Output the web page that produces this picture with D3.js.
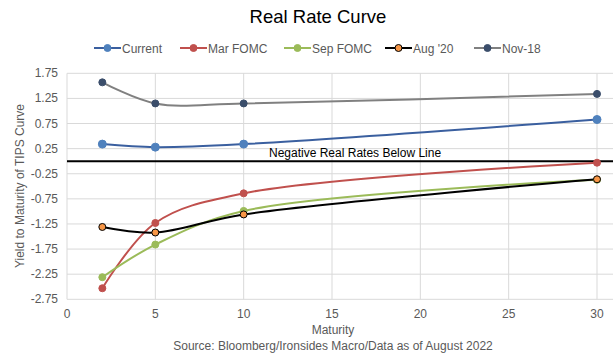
<!DOCTYPE html>
<html><head><meta charset="utf-8">
<script src="https://cdn.jsdelivr.net/npm/d3@7"></script>
<style>body{margin:0;background:#fff;} text{font-family:Arial,"Liberation Sans",sans-serif;}</style>
</head><body>
<svg id="c" width="613" height="356"></svg>
<script>
const maturities = [2, 5, 10, 30];
const current = [0.34, 0.28, 0.34, 0.83];
const marFomc = [-2.53, -1.23, -0.64, -0.03];
const sepFomc = [-2.31, -1.66, -0.99, -0.37];
const aug20 = [-1.31, -1.42, -1.06, -0.36];
const nov18 = [1.57, 1.15, 1.15, 1.34];
const seriesNames = ["Current", "Mar FOMC", "Sep FOMC", "Aug '20", "Nov-18"];
const yTicks = [1.75, 1.25, 0.75, 0.25, -0.25, -0.75, -1.25, -1.75, -2.25, -2.75];
const xTicks = [0, 5, 10, 15, 20, 25, 30];

const styles = [
  {line:"#3a5f9f", fill:"#4f81bd", stroke:"#4f81bd", r:4},
  {line:"#c0504d", fill:"#c0504d", stroke:"#c0504d", r:3.5},
  {line:"#9bbb59", fill:"#9bbb59", stroke:"#9bbb59", r:3.5},
  {line:"#000000", fill:"#f79646", stroke:"#000000", r:3.5},
  {line:"#808080", fill:"#3b4e6b", stroke:"#3b4e6b", r:3.5}
];
const allSeries = [current, marFomc, sepFomc, aug20, nov18];

const svg = d3.select("#c");
const x = d3.scaleLinear().domain([0, 30]).range([67, 597]);
const y = d3.scaleLinear().domain([-2.75, 1.75]).range([299.3, 73.3]);

// gridlines
const g = svg.append("g");
g.selectAll("line.h").data(yTicks).join("line")
  .attr("x1", x(0)).attr("x2", 613).attr("y1", d=>y(d)).attr("y2", d=>y(d))
  .attr("stroke", "#d9d9d9").attr("stroke-width", 1);
g.selectAll("line.v").data(xTicks).join("line")
  .attr("x1", d=>x(d)).attr("x2", d=>x(d)).attr("y1", y(1.75)).attr("y2", y(-2.75))
  .attr("stroke", "#d9d9d9").attr("stroke-width", 1);

// axes labels
svg.append("g").selectAll("text").data(yTicks).join("text")
  .attr("x", 58).attr("y", d=>y(d)+4).attr("text-anchor","end")
  .attr("font-size", 12).attr("fill","#595959").text(d=>d.toFixed(2));
svg.append("g").selectAll("text").data(xTicks).join("text")
  .attr("x", d=>x(d)).attr("y", 318).attr("text-anchor","middle")
  .attr("font-size", 12).attr("fill","#595959").text(d=>d);

// zero line
svg.append("line").attr("x1", x(0)).attr("x2", 613).attr("y1", y(0)).attr("y2", y(0))
  .attr("stroke","#000").attr("stroke-width",2);
svg.append("text").attr("x", 269).attr("y", y(0)-4).attr("font-size", 12).attr("fill","#000")
  .text("Negative Real Rates Below Line");

// lines
const lineGen = d3.line().x((d,i)=>x(maturities[i])).y(d=>y(d)).curve(d3.curveCatmullRom.alpha(0.5));
allSeries.forEach((s, k) => {
  const st = styles[k];
  svg.append("path").attr("d", lineGen(s)).attr("fill","none")
    .attr("stroke", st.line).attr("stroke-width", 2);
});
allSeries.forEach((s, k) => {
  const st = styles[k];
  svg.append("g").selectAll("circle").data(s).join("circle")
    .attr("cx", (d,i)=>x(maturities[i])).attr("cy", d=>y(d)).attr("r", st.r)
    .attr("fill", st.fill).attr("stroke", st.stroke).attr("stroke-width", 1);
});

// title
svg.append("text").attr("x", 318).attr("y", 23).attr("text-anchor","middle")
  .attr("font-size", 18.5).attr("fill","#000").text("Real Rate Curve");

// legend
const legX = [94, 180, 284, 385, 474];
seriesNames.forEach((n, k) => {
  const st = styles[k];
  const lg = svg.append("g");
  lg.append("line").attr("x1", legX[k]).attr("x2", legX[k]+27).attr("y1", 48).attr("y2", 48)
    .attr("stroke", st.line).attr("stroke-width", 2);
  lg.append("circle").attr("cx", legX[k]+13.5).attr("cy", 48).attr("r", 3.5)
    .attr("fill", st.fill).attr("stroke", st.stroke);
  lg.append("text").attr("x", legX[k]+28).attr("y", 52.5).attr("font-size", 12)
    .attr("fill","#595959").text(n);
});

// axis titles
svg.append("text").attr("transform","translate(24,186) rotate(-90)").attr("text-anchor","middle")
  .attr("font-size", 12).attr("fill","#595959").text("Yield to Maturity of TIPS Curve");
svg.append("text").attr("x", 333).attr("y", 334).attr("text-anchor","middle")
  .attr("font-size", 12).attr("fill","#595959").text("Maturity");
svg.append("text").attr("x", 333).attr("y", 350).attr("text-anchor","middle")
  .attr("font-size", 12).attr("fill","#595959").text("Source: Bloomberg/Ironsides Macro/Data as of August 2022");
</script>
</body></html>
